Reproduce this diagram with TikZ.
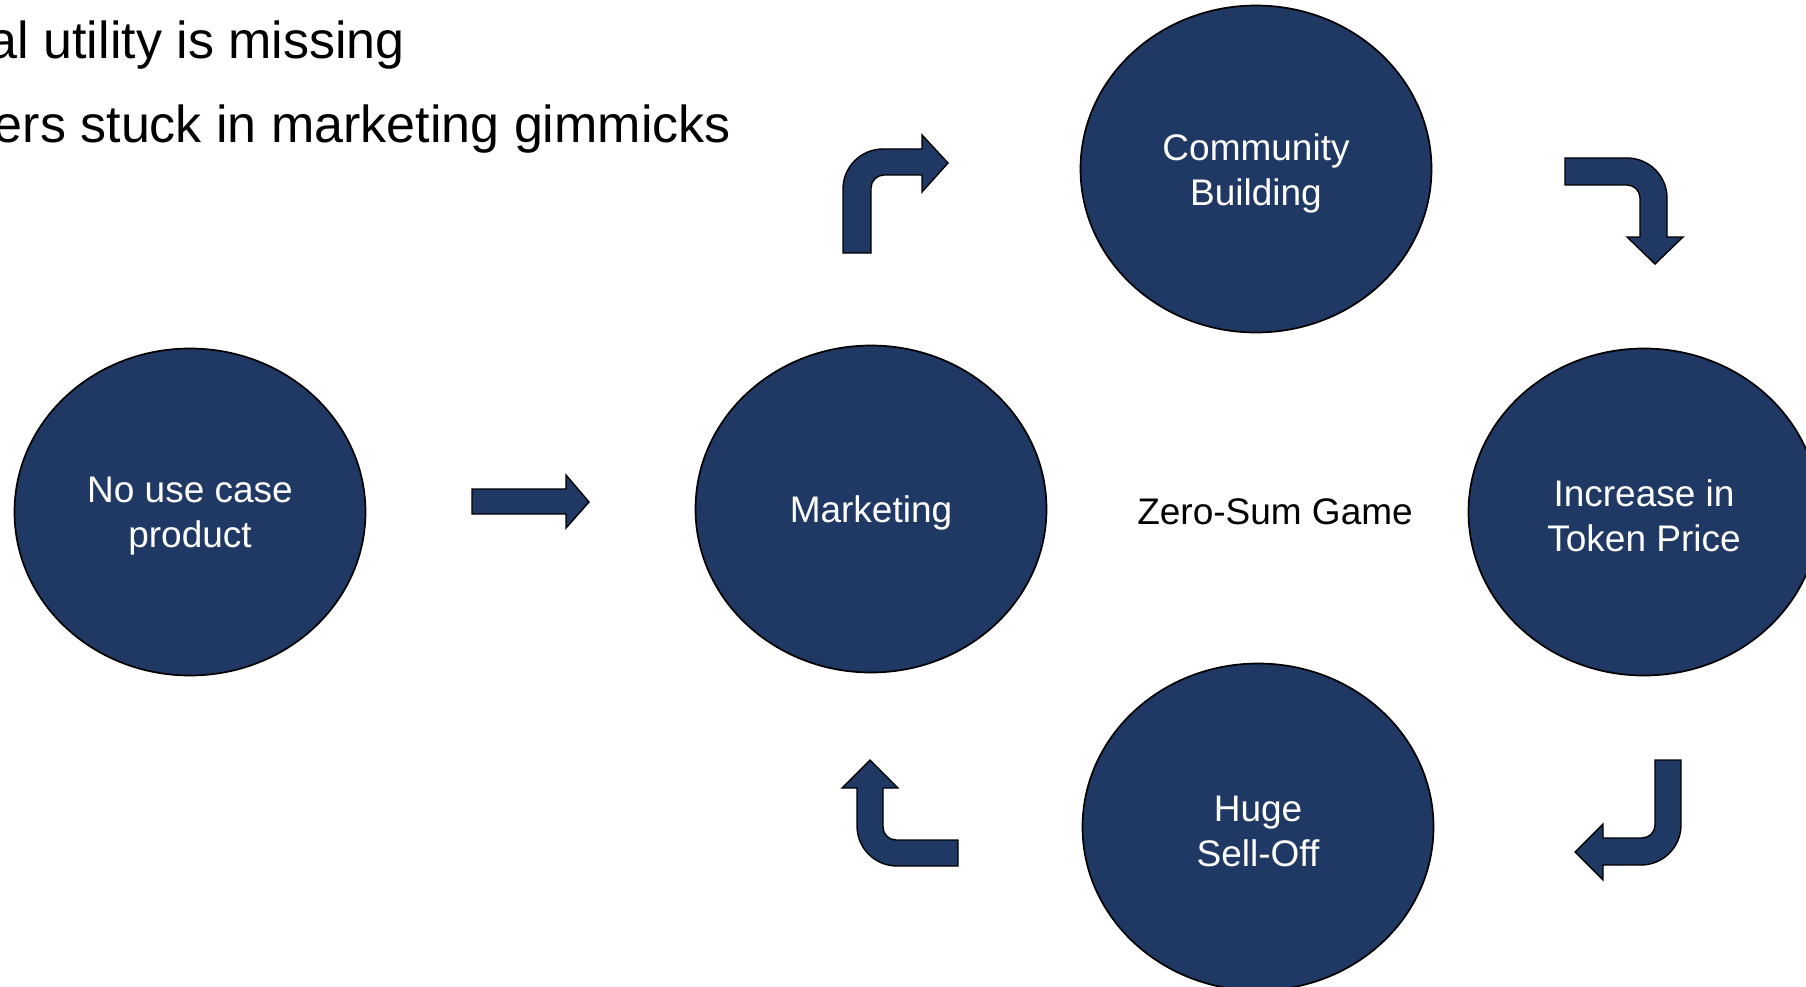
\documentclass[tikz,border=0pt]{standalone}
\usepackage{fontspec}
\setmainfont{Liberation Sans}
\usetikzlibrary{shapes.geometric}
\definecolor{navy}{RGB}{32,56,100}
\tikzset{
  bubble/.style={ellipse, draw=black, line width=1.7pt, fill=navy,
    minimum width=351pt, minimum height=327pt, inner sep=0pt},
  bubtext/.style={text=white, align=center, inner sep=0pt, yshift=-4pt,
    font=\fontsize{37}{45}\selectfont},
  blockarrow/.style={draw=black, line width=1.4pt, fill=navy, line join=miter},
  bigtext/.style={anchor=base east, inner sep=0pt, font=\fontsize{52}{60}\selectfont},
}
\begin{document}
\begin{tikzpicture}[x=1pt,y=-1pt]
\useasboundingbox (0,0) rectangle (1806,987);
\fill[white] (0,0) rectangle (1806,987);

\node[bigtext] (t1) at (405,59) {al utility is missing};
\node[bigtext] (t2) at (731,143) {ers stuck in marketing gimmicks};

\node[bubble, label={[bubtext]center:No use case\\product}] (nouse) at (190,512) {};
\node[bubble, label={[bubtext]center:Marketing}] (mkt) at (871,509) {};
\node[bubble, label={[bubtext]center:Community\\Building}] (comm) at (1256,169) {};
\node[bubble, label={[bubtext]center:Increase in\\Token Price}] (inc) at (1644,512) {};
\node[bubble, label={[bubtext]center:Huge\\Sell-Off}] (sell) at (1258,827) {};
\node[font=\fontsize{37}{45}\selectfont, inner sep=0pt] (zsg) at (1275,512) {Zero-Sum Game};

% straight arrow
\path[blockarrow] (472,489) -- (566,489) -- (566,475) -- (589,502) -- (566,528) -- (566,514) -- (472,514) -- cycle;

% bent arrow up-right (Marketing -> Community)
\path[blockarrow] (843,253) -- (843,189) .. controls (843,166.9) and (860.9,149) .. (883,149)
  -- (922,149) -- (922,135) -- (948,163) -- (922,192) -- (922,175) -- (884,175)
  .. controls (876.8,175) and (871,180.8) .. (871,188) -- (871,253) -- cycle;

% bent arrow right-down (Community -> Increase)
\path[blockarrow] (1565,158) -- (1627,158) .. controls (1649.1,158) and (1667,175.9) .. (1667,198)
  -- (1667,237) -- (1683,237) -- (1655,264) -- (1627,237) -- (1640,237) -- (1640,198)
  .. controls (1640,190.8) and (1634.2,185) .. (1627,185) -- (1565,185) -- cycle;

% bent arrow down-left (Increase -> Sell-Off)
\path[blockarrow] (1655,760) -- (1681,760) -- (1681,825) .. controls (1681,847.1) and (1663.1,865) .. (1641,865)
  -- (1603,865) -- (1603,880) -- (1575,852) -- (1603,824) -- (1603,838) -- (1642,838)
  .. controls (1649.2,838) and (1655,832.2) .. (1655,825) -- cycle;

% bent arrow left-up (Sell-Off -> Marketing)
\path[blockarrow] (958,840) -- (896,840) .. controls (888.8,840) and (883,834.2) .. (883,827)
  -- (883,788) -- (898,788) -- (870,760) -- (842,788) -- (857,788) -- (857,826)
  .. controls (857,848.1) and (874.9,866) .. (897,866) -- (958,866) -- cycle;
\end{tikzpicture}
\end{document}
